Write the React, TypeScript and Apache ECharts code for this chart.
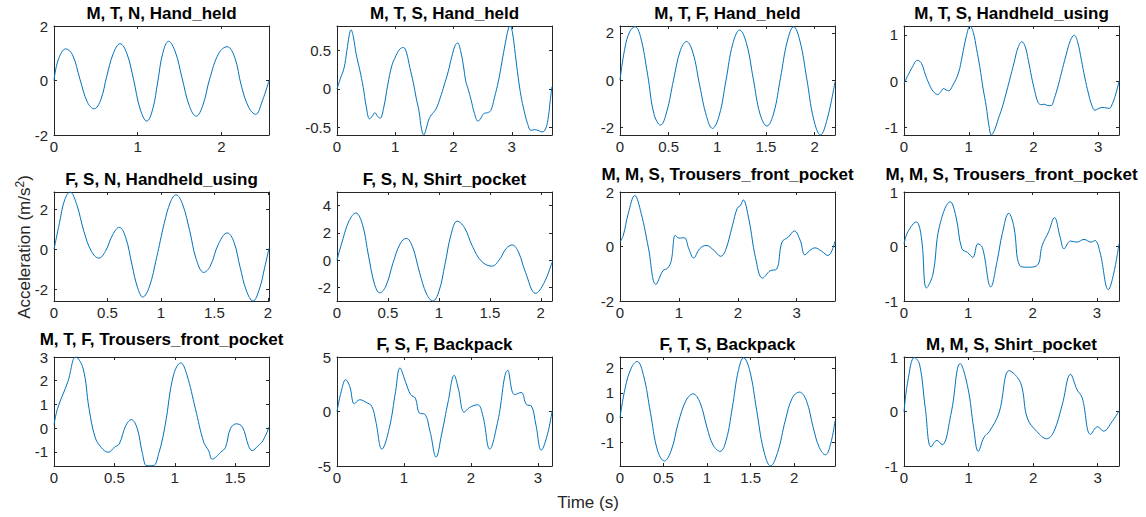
import { useEffect, useRef } from "react";
import * as echarts from "echarts";

const titles = [
  "M, T, N, Hand_held",
  "M, T, S, Hand_held",
  "M, T, F, Hand_held",
  "M, T, S, Handheld_using",
  "F, S, N, Handheld_using",
  "F, S, N, Shirt_pocket",
  "M, M, S, Trousers_front_pocket",
  "M, M, S, Trousers_front_pocket",
  "M, T, F, Trousers_front_pocket",
  "F, S, F, Backpack",
  "F, T, S, Backpack",
  "M, M, S, Shirt_pocket",
];

const t1 = [0, 0.05, 0.14, 0.22, 0.31, 0.40, 0.48, 0.56, 0.63, 0.71, 0.79, 0.87, 0.95, 1.03, 1.11, 1.18, 1.24, 1.30, 1.37, 1.45, 1.53, 1.62, 1.70, 1.78, 1.86, 1.97, 2.07, 2.16, 2.24, 2.33, 2.41, 2.49, 2.57];
const a1 = [0, 0.75, 1.16, 0.95, 0.05, -0.8, -1.04, -0.7, 0.15, 1.0, 1.35, 1.0, 0.05, -1.05, -1.49, -1.05, -0.05, 1.0, 1.44, 1.05, 0.1, -0.95, -1.31, -0.9, 0.05, 1.0, 1.24, 0.85, -0.2, -1.0, -1.24, -0.75, 0];

const t2 = [0, 0.06, 0.12, 0.17, 0.21, 0.24, 0.28, 0.33, 0.39, 0.45, 0.50, 0.56, 0.61, 0.65, 0.70, 0.74, 0.80, 0.87, 0.94, 1.01, 1.08, 1.14, 1.19, 1.25, 1.31, 1.36, 1.41, 1.45, 1.49, 1.53, 1.58, 1.64, 1.70, 1.77, 1.84, 1.91, 1.97, 2.03, 2.07, 2.12, 2.17, 2.21, 2.25, 2.30, 2.36, 2.42, 2.47, 2.52, 2.58, 2.64, 2.70, 2.77, 2.83, 2.89, 2.94, 2.97, 3.01, 3.06, 3.11, 3.16, 3.21, 3.27, 3.33, 3.39, 3.45, 3.52, 3.58, 3.63, 3.66, 3.69];
const a2 = [0, 0.14, 0.27, 0.5, 0.7, 0.77, 0.68, 0.45, 0.25, 0.02, -0.22, -0.39, -0.35, -0.31, -0.36, -0.38, -0.25, 0.05, 0.3, 0.43, 0.52, 0.54, 0.48, 0.28, 0.08, -0.12, -0.3, -0.52, -0.6, -0.52, -0.39, -0.32, -0.26, -0.12, 0.05, 0.23, 0.42, 0.57, 0.6, 0.5, 0.3, 0.1, 0.0, -0.14, -0.32, -0.42, -0.38, -0.32, -0.31, -0.28, -0.12, 0.1, 0.35, 0.6, 0.78, 0.82, 0.74, 0.45, 0.15, -0.1, -0.28, -0.45, -0.54, -0.53, -0.54, -0.56, -0.52, -0.35, -0.15, 0.03];

const t3 = [0, 0.05, 0.10, 0.154, 0.21, 0.285, 0.35, 0.417, 0.48, 0.55, 0.62, 0.684, 0.75, 0.82, 0.89, 0.95, 1.02, 1.09, 1.16, 1.23, 1.30, 1.37, 1.44, 1.51, 1.58, 1.65, 1.72, 1.785, 1.85, 1.92, 1.99, 2.06, 2.13, 2.21];
const a3 = [0, 1.35, 2.05, 2.26, 1.85, 0.2, -1.45, -1.91, -1.35, 0.0, 1.25, 1.63, 1.15, -0.25, -1.55, -2.05, -1.5, 0.0, 1.55, 2.12, 1.55, 0.05, -1.45, -1.95, -1.4, 0.1, 1.65, 2.26, 1.65, 0.05, -1.65, -2.33, -1.65, -0.07];

const t4 = [0, 0.06, 0.12, 0.21, 0.27, 0.33, 0.39, 0.45, 0.52, 0.57, 0.61, 0.65, 0.69, 0.75, 0.84, 0.90, 0.96, 1.02, 1.07, 1.12, 1.17, 1.22, 1.27, 1.31, 1.35, 1.40, 1.46, 1.51, 1.57, 1.63, 1.70, 1.76, 1.82, 1.87, 1.92, 1.97, 2.02, 2.07, 2.12, 2.17, 2.22, 2.27, 2.32, 2.38, 2.43, 2.50, 2.57, 2.63, 2.68, 2.74, 2.79, 2.85, 2.90, 2.95, 3.01, 3.07, 3.12, 3.17, 3.22, 3.27, 3.32];
const a4 = [-0.05, 0.12, 0.28, 0.45, 0.38, 0.14, -0.07, -0.22, -0.29, -0.23, -0.16, -0.19, -0.21, -0.1, 0.17, 0.55, 0.95, 1.19, 1.05, 0.7, 0.31, -0.15, -0.55, -0.95, -1.165, -1.05, -0.8, -0.6, -0.3, 0.02, 0.4, 0.72, 0.85, 0.75, 0.45, 0.09, -0.22, -0.46, -0.51, -0.5, -0.53, -0.53, -0.38, -0.1, 0.17, 0.55, 0.88, 0.99, 0.85, 0.45, 0.09, -0.28, -0.52, -0.63, -0.59, -0.57, -0.58, -0.59, -0.48, -0.28, -0.01];

const t5 = [0, 0.05, 0.10, 0.15, 0.21, 0.28, 0.35, 0.42, 0.48, 0.55, 0.61, 0.67, 0.73, 0.78, 0.83, 0.89, 0.96, 1.03, 1.09, 1.14, 1.20, 1.27, 1.33, 1.40, 1.46, 1.54, 1.62, 1.68, 1.74, 1.80, 1.86, 1.92, 1.97, 2.01];
const a5 = [0, 1.3, 2.5, 2.89, 2.3, 0.9, -0.1, -0.44, -0.1, 0.75, 1.11, 0.6, -0.8, -1.9, -2.4, -1.9, -0.4, 1.3, 2.4, 2.75, 2.3, 0.9, -0.5, -1.16, -0.85, 0.3, 0.83, 0.4, -0.9, -2.1, -2.6, -2.0, -0.9, 0.05];

const t6 = [0, 0.06, 0.12, 0.185, 0.25, 0.31, 0.37, 0.42, 0.48, 0.55, 0.62, 0.68, 0.74, 0.81, 0.88, 0.94, 1.00, 1.06, 1.12, 1.18, 1.25, 1.33, 1.42, 1.52, 1.60, 1.66, 1.72, 1.78, 1.85, 1.95, 2.03, 2.11];
const a6 = [0, 1.6, 2.9, 3.46, 2.6, 0.3, -1.8, -2.4, -1.9, -0.2, 1.2, 1.6, 1.0, -0.9, -2.5, -3.0, -2.3, -0.3, 1.9, 2.86, 2.4, 1.0, -0.1, -0.44, 0.1, 0.85, 1.11, 0.6, -0.9, -2.44, -1.7, -0.17];

const t7 = [0, 0.056, 0.14, 0.25, 0.36, 0.48, 0.61, 0.73, 0.81, 0.87, 0.94, 1.0, 1.09, 1.17, 1.25, 1.35, 1.46, 1.60, 1.71, 1.79, 1.91, 1.99, 2.05, 2.09, 2.19, 2.30, 2.42, 2.55, 2.66, 2.75, 2.86, 2.96, 3.06, 3.14, 3.22, 3.31, 3.42, 3.53, 3.65];
const a7 = [0.16, 0.41, 1.21, 1.87, 1.21, -0.02, -1.39, -0.89, -0.79, -0.52, 0.41, 0.31, 0.32, -0.09, -0.42, -0.09, 0.04, -0.15, -0.36, -0.15, 0.78, 1.4, 1.52, 1.71, 0.97, -0.4, -1.16, -0.89, -0.83, 0.16, 0.35, 0.57, 0.22, -0.31, -0.15, -0.05, -0.17, -0.33, 0.19];

const t8 = [0, 0.06, 0.19, 0.27, 0.35, 0.45, 0.55, 0.72, 0.81, 0.90, 0.99, 1.07, 1.15, 1.22, 1.35, 1.45, 1.53, 1.63, 1.71, 1.80, 1.92, 2.07, 2.15, 2.25, 2.34, 2.43, 2.49, 2.59, 2.69, 2.80, 2.91, 2.97, 3.05, 3.18, 3.26, 3.345];
const a8 = [0.05, 0.27, 0.45, 0.17, -0.76, -0.51, 0.36, 0.82, 0.54, -0.04, -0.11, -0.2, 0.05, -0.02, -0.74, -0.26, 0.24, 0.61, 0.36, -0.35, -0.38, -0.35, 0.02, 0.27, 0.53, 0.17, -0.04, 0.1, 0.08, 0.13, 0.08, 0.11, -0.11, -0.79, -0.51, 0.05];

const t9 = [0, 0.03, 0.115, 0.18, 0.24, 0.29, 0.34, 0.39, 0.45, 0.50, 0.54, 0.595, 0.64, 0.69, 0.73, 0.77, 0.82, 0.87, 0.92, 0.99, 1.05, 1.10, 1.17, 1.24, 1.28, 1.31, 1.38, 1.42, 1.46, 1.51, 1.56, 1.61, 1.64, 1.69, 1.73, 1.78];
const a9 = [0.14, 0.83, 1.96, 3.0, 2.53, 0.83, -0.38, -0.81, -1.02, -0.81, -0.67, 0.11, 0.36, -0.03, -1.02, -1.59, -1.59, -1.02, 0.11, 2.25, 2.75, 2.25, 0.83, -0.6, -0.95, -1.31, -1.02, -0.81, -0.03, 0.18, 0.04, -0.74, -0.95, -0.74, -0.53, 0.04];

const t10 = [0, 0.064, 0.13, 0.19, 0.26, 0.34, 0.43, 0.52, 0.58, 0.67, 0.78, 0.875, 0.94, 1.02, 1.10, 1.17, 1.23, 1.31, 1.39, 1.48, 1.56, 1.66, 1.75, 1.81, 1.90, 1.98, 2.10, 2.18, 2.28, 2.40, 2.55, 2.65, 2.75, 2.83, 2.90, 2.97, 3.05, 3.14, 3.21];
const a10 = [0, 1.85, 2.92, 2.31, 0.71, 1.08, 0.86, 0.46, -0.92, -3.45, -1.54, 1.85, 4.0, 2.77, 1.54, 1.23, -0.15, -0.25, -1.85, -4.18, -2.15, 0.92, 3.32, 2.15, -0.06, 0.37, 0.62, -0.46, -3.45, -0.92, 3.78, 1.54, 1.75, 0.62, 0.52, -1.23, -3.54, -2.15, 0];

const t11 = [0, 0.06, 0.13, 0.197, 0.27, 0.35, 0.43, 0.51, 0.59, 0.67, 0.76, 0.84, 0.92, 1.00, 1.07, 1.15, 1.22, 1.29, 1.36, 1.42, 1.49, 1.57, 1.65, 1.73, 1.81, 1.90, 1.98, 2.06, 2.14, 2.22, 2.29, 2.36, 2.42, 2.47];
const a11 = [0, 1.2, 2.0, 2.26, 1.7, 0.2, -1.3, -1.74, -1.3, -0.2, 0.7, 0.96, 0.6, -0.4, -1.1, -1.35, -0.9, 0.4, 1.9, 2.41, 1.9, 0.3, -1.3, -1.94, -1.4, -0.1, 0.8, 1.03, 0.7, -0.4, -1.2, -1.49, -1.05, -0.13];

const t12 = [0, 0.06, 0.16, 0.24, 0.33, 0.42, 0.51, 0.59, 0.73, 0.87, 0.99, 1.08, 1.15, 1.24, 1.32, 1.47, 1.63, 1.76, 1.83, 1.91, 2.06, 2.21, 2.32, 2.45, 2.58, 2.68, 2.76, 2.89, 3.0, 3.09, 3.22, 3.33];
const a12 = [-0.01, 0.56, 0.99, 0.87, 0.06, -0.65, -0.53, -0.61, -0.03, 0.88, 0.43, -0.31, -0.73, -0.47, -0.37, -0.03, 0.75, 0.62, 0.43, -0.12, -0.37, -0.5, -0.37, 0.12, 0.68, 0.4, 0.25, -0.42, -0.28, -0.36, -0.19, 0.01];

const times = [t1, t2, t3, t4, t5, t6, t7, t8, t9, t10, t11, t12];
const accels = [a1, a2, a3, a4, a5, a6, a7, a8, a9, a10, a11, a12];

const xMax = [2.57, 3.69, 2.21, 3.32, 2.01, 2.11, 3.65, 3.345, 1.78, 3.21, 2.47, 3.33];
const yMin = [-2, -0.6, -2.33, -1.165, -2.6, -3, -2, -1, -1.6, -5, -1.94, -1];
const yMax = [2, 0.82, 2.29, 1.19, 2.89, 5, 2, 1, 3.0, 5, 2.44, 1];
const xStep = [1, 1, 0.5, 1, 0.5, 0.5, 1, 1, 0.5, 1, 0.5, 1];
const yStep = [2, 0.5, 2, 1, 2, 2, 2, 1, 1, 5, 1, 1];

const colLeft = [54, 337, 620, 904];
const rowTop = [26, 192, 357];
const W = 215;
const H = 109;
const FONT = "Liberation Sans, Arial, Helvetica, sans-serif";
const AX = "#262626";

const isMult = (v: number, s: number) => Math.abs(v / s - Math.round(v / s)) < 1e-6;

function axisBase(min: number, max: number, step: number, gridIndex: number) {
  return {
    type: "value" as const,
    gridIndex,
    min,
    max,
    minInterval: step,
    maxInterval: step,
    splitNumber: 5,
    splitLine: { show: false },
    axisLine: { show: true, onZero: false, lineStyle: { color: AX, width: 1 } },
    axisTick: { show: true, inside: true, length: 3, lineStyle: { color: AX, width: 1 } },
  };
}

export default function App() {
  const ref = useRef<HTMLDivElement>(null);
  useEffect(() => {
    if (!ref.current) return;
    const chart = echarts.init(ref.current, undefined, { renderer: "svg" });
    const grid: any[] = [];
    const xAxis: any[] = [];
    const yAxis: any[] = [];
    const series: any[] = [];
    const title: any[] = [];
    for (let i = 0; i < 12; i++) {
      const r = Math.floor(i / 4);
      const c = i % 4;
      grid.push({ left: colLeft[c], top: rowTop[r], width: W, height: H, containLabel: false });
      const labelStyle = { color: AX, fontSize: 15, fontFamily: FONT, lineHeight: 12 };
      xAxis.push({
        ...axisBase(0, xMax[i], xStep[i], i),
        position: "bottom",
        axisLabel: { ...labelStyle, margin: 5, showMinLabel: true, showMaxLabel: isMult(xMax[i], xStep[i]) },
      });
      xAxis.push({
        ...axisBase(0, xMax[i], xStep[i], i),
        position: "top",
        axisLabel: { show: false },
      });
      yAxis.push({
        ...axisBase(yMin[i], yMax[i], yStep[i], i),
        position: "left",
        axisLabel: {
          ...labelStyle,
          margin: 6,
          showMinLabel: isMult(yMin[i], yStep[i]),
          showMaxLabel: isMult(yMax[i], yStep[i]),
        },
      });
      yAxis.push({
        ...axisBase(yMin[i], yMax[i], yStep[i], i),
        position: "right",
        axisLabel: { show: false },
      });
      series.push({
        type: "line",
        xAxisIndex: 2 * i,
        yAxisIndex: 2 * i,
        data: times[i].map((t, j) => [t, accels[i][j]]),
        showSymbol: false,
        symbol: "none",
        smooth: 0.4,
        clip: true,
        silent: true,
        lineStyle: { color: "#0072BD", width: 1 },
      });
      // wide titles reach over the top y tick label: lift them a little
      const lift = titles[i].length > 26 ? 5 : 0;
      title.push({
        text: titles[i],
        left: colLeft[c] + W / 2,
        top: rowTop[r] - 19.5 - lift,
        textAlign: "center",
        padding: 0,
        textStyle: { fontSize: 17, lineHeight: 14, fontWeight: "bold", color: "#000", fontFamily: FONT },
      });
    }
    chart.setOption({
      animation: false,
      backgroundColor: "#fff",
      title,
      grid,
      xAxis,
      yAxis,
      series,
      graphic: [
        {
          type: "text",
          x: 24,
          y: 247,
          rotation: Math.PI / 2,
          style: {
            text: "Acceleration (m/s{sup|2})",
            fontSize: 17,
            fontFamily: FONT,
            fill: AX,
            align: "center",
            verticalAlign: "middle",
            rich: { sup: { fontSize: 12, fontFamily: FONT, fill: AX, verticalAlign: "top", padding: [0, 0, 8, 0] } },
          },
        },
        {
          type: "text",
          x: 588,
          y: 502,
          style: { text: "Time (s)", fontSize: 17, fontFamily: FONT, fill: AX, align: "center", verticalAlign: "middle" },
        },
      ],
    });
    return () => chart.dispose();
  }, []);
  return (
    <div
      ref={ref}
      style={{ position: "fixed", left: 0, top: 0, width: 1146, height: 517, background: "#fff" }}
    />
  );
}
